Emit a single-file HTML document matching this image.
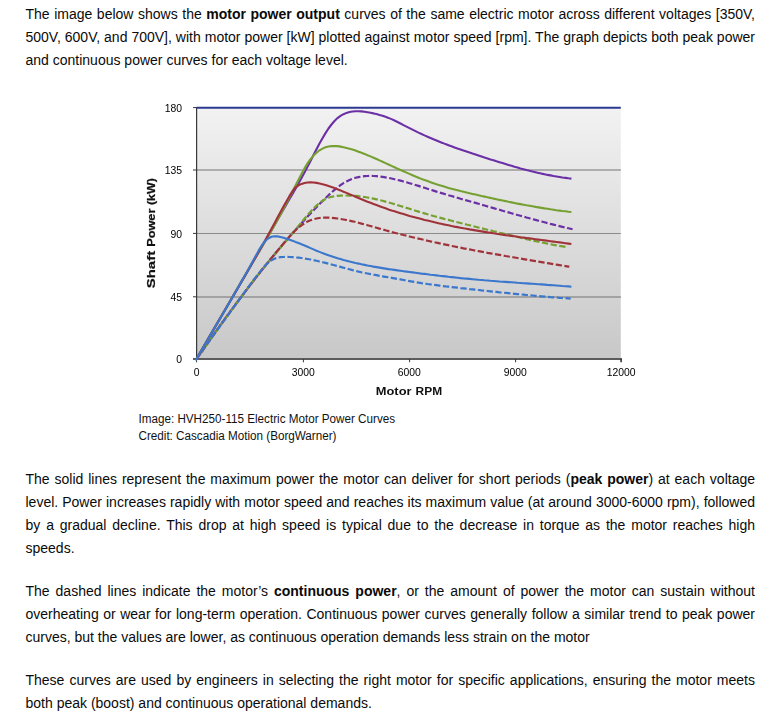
<!DOCTYPE html>
<html><head><meta charset="utf-8">
<style>
html,body{margin:0;padding:0;background:#fff;}
body{width:782px;height:722px;position:relative;overflow:hidden;font-family:"Liberation Sans",sans-serif;color:#0a0a0a;}
.p{position:absolute;left:25.5px;width:729.5px;font-size:14px;line-height:23px;}
.p div{text-align:justify;text-align-last:justify;white-space:nowrap;height:23px;}
.p div.l{text-align:left;text-align-last:left;}
svg{position:absolute;left:0;top:0;}
.cap{position:absolute;left:139px;font-size:11.62px;line-height:16.8px;white-space:nowrap;color:#111;}
</style></head><body>
<div class="p" style="top:3px">
<div>The image below shows the <b>motor power output</b> curves of the same electric motor across different voltages [350V,</div>
<div>500V, 600V, and 700V], with motor power [kW] plotted against motor speed [rpm]. The graph depicts both peak power</div>
<div class="l">and continuous power curves for each voltage level.</div>
</div>
<svg width="520" height="310" viewBox="130 95 520 310" style="left:130px;top:95px;will-change:transform">
<defs><linearGradient id="bg" x1="0" y1="0" x2="0" y2="1"><stop offset="0" stop-color="#f2f2f2"/><stop offset="1" stop-color="#c8c8c8"/></linearGradient></defs>
<rect x="196.5" y="107.5" width="424.3" height="251.5" fill="url(#bg)"/>
<line x1="196" y1="170" x2="620.8" y2="170" stroke="#aeaeae" stroke-width="2"/>
<line x1="196" y1="233.5" x2="620.8" y2="233.5" stroke="#8a8a8a" stroke-width="1.2"/>
<line x1="196" y1="296.9" x2="620.8" y2="296.9" stroke="#a2a2a2" stroke-width="2"/>
<line x1="196.6" y1="107" x2="196.6" y2="359" stroke="#3a3a3a" stroke-width="1.2"/>
<line x1="193" y1="359" x2="622" y2="359" stroke="#5c5c5c" stroke-width="2"/>
<g stroke="#383838" stroke-width="1">
<line x1="193" y1="107.6" x2="197" y2="107.6"/><line x1="193" y1="170" x2="197" y2="170"/><line x1="193" y1="233.4" x2="197" y2="233.4"/><line x1="193" y1="296.8" x2="197" y2="296.8"/>
<line x1="196.6" y1="359" x2="196.6" y2="362.3"/><line x1="303.4" y1="359" x2="303.4" y2="362.3"/><line x1="409.6" y1="359" x2="409.6" y2="362.3"/><line x1="515.6" y1="359" x2="515.6" y2="362.3"/><line x1="621.1" y1="359" x2="621.1" y2="362.3" stroke-width="1.6"/>
</g>
<path d="M196.5,359.0 L199.5,354.7 L202.5,350.4 L205.5,346.1 L208.5,341.8 L211.5,337.6 L214.5,333.4 L217.5,329.2 L220.5,325.0 L223.5,320.9 L226.5,316.7 L229.5,312.6 L232.5,308.6 L235.5,304.5 L238.5,300.5 L241.5,296.5 L244.5,292.5 L247.5,288.6 L250.5,284.7 L253.5,280.8 L256.5,276.9 L259.5,273.1 L262.5,269.3 L265.5,265.6 L268.5,261.9 L271.5,258.2 L274.5,254.5 L277.5,250.9 L280.5,247.3 L283.5,243.7 L286.5,240.2 L289.5,236.7 L292.5,233.3 L295.5,229.9 L298.5,226.5 L301.5,223.2 L304.5,219.9 L307.5,216.6 L310.5,213.4 L313.5,210.3 L316.5,207.2 L319.5,204.1 L322.5,201.1 L325.5,198.2 L328.5,195.3 L331.5,192.5 L334.5,189.9 L337.5,187.4 L340.5,185.2 L343.5,183.1 L346.5,181.4 L349.5,179.9 L352.5,178.7 L355.5,177.8 L358.5,177.1 L361.5,176.5 L364.5,176.2 L367.5,176.0 L370.5,175.9 L373.5,176.0 L376.5,176.2 L379.5,176.5 L382.5,176.9 L385.5,177.4 L388.5,177.9 L391.5,178.5 L394.5,179.2 L397.5,179.9 L400.5,180.6 L403.5,181.5 L406.5,182.3 L409.5,183.2 L412.5,184.1 L415.5,185.0 L418.5,185.9 L421.5,186.9 L424.5,187.8 L427.5,188.8 L430.5,189.7 L433.5,190.6 L436.5,191.6 L439.5,192.5 L442.5,193.4 L445.5,194.3 L448.5,195.2 L451.5,196.0 L454.5,196.9 L457.5,197.8 L460.5,198.7 L463.5,199.5 L466.5,200.4 L469.5,201.2 L472.5,202.1 L475.5,202.9 L478.5,203.8 L481.5,204.7 L484.5,205.5 L487.5,206.4 L490.5,207.2 L493.5,208.1 L496.5,209.0 L499.5,209.8 L502.5,210.7 L505.5,211.6 L508.5,212.4 L511.5,213.3 L514.5,214.1 L517.5,215.0 L520.5,215.8 L523.5,216.6 L526.5,217.5 L529.5,218.3 L532.5,219.1 L535.5,219.9 L538.5,220.7 L541.5,221.5 L544.5,222.3 L547.5,223.1 L550.5,223.9 L553.5,224.6 L556.5,225.4 L559.5,226.1 L562.5,226.9 L565.5,227.6 L568.5,228.3 L571.5,229.0 L572.5,229.2" fill="none" stroke="#6b2fa6" stroke-width="2.2" stroke-dasharray="6.3 2.5" stroke-dashoffset="4.5" stroke-linejoin="round"/>
<path d="M196.5,359.0 L199.5,354.8 L202.5,350.6 L205.5,346.4 L208.5,342.2 L211.5,338.0 L214.5,333.8 L217.5,329.5 L220.5,325.3 L223.5,321.1 L226.5,316.9 L229.5,312.8 L232.5,308.6 L235.5,304.5 L238.5,300.4 L241.5,296.3 L244.5,292.3 L247.5,288.3 L250.5,284.4 L253.5,280.5 L256.5,276.7 L259.5,272.9 L262.5,269.2 L265.5,265.5 L268.5,261.9 L271.5,258.3 L274.5,254.7 L277.5,251.1 L280.5,247.6 L283.5,244.0 L286.5,240.5 L289.5,236.9 L292.5,233.3 L295.5,229.7 L298.5,226.1 L301.5,222.4 L304.5,218.7 L307.5,215.2 L310.5,211.7 L313.5,208.5 L316.5,205.6 L319.5,203.0 L322.5,200.8 L325.5,199.0 L328.5,197.7 L331.5,196.8 L334.5,196.2 L337.5,195.8 L340.5,195.6 L343.5,195.5 L346.5,195.5 L349.5,195.6 L352.5,195.7 L355.5,195.9 L358.5,196.2 L361.5,196.6 L364.5,197.0 L367.5,197.5 L370.5,198.1 L373.5,198.7 L376.5,199.3 L379.5,200.0 L382.5,200.8 L385.5,201.6 L388.5,202.4 L391.5,203.3 L394.5,204.1 L397.5,205.1 L400.5,206.0 L403.5,206.9 L406.5,207.9 L409.5,208.8 L412.5,209.8 L415.5,210.7 L418.5,211.6 L421.5,212.5 L424.5,213.4 L427.5,214.3 L430.5,215.1 L433.5,216.0 L436.5,216.8 L439.5,217.6 L442.5,218.4 L445.5,219.2 L448.5,219.9 L451.5,220.7 L454.5,221.5 L457.5,222.2 L460.5,223.0 L463.5,223.7 L466.5,224.5 L469.5,225.2 L472.5,226.0 L475.5,226.7 L478.5,227.5 L481.5,228.2 L484.5,229.0 L487.5,229.7 L490.5,230.4 L493.5,231.2 L496.5,231.9 L499.5,232.7 L502.5,233.4 L505.5,234.2 L508.5,234.9 L511.5,235.6 L514.5,236.3 L517.5,237.0 L520.5,237.7 L523.5,238.4 L526.5,239.1 L529.5,239.8 L532.5,240.4 L535.5,241.1 L538.5,241.7 L541.5,242.4 L544.5,243.0 L547.5,243.6 L550.5,244.2 L553.5,244.8 L556.5,245.3 L559.5,245.9 L562.5,246.4 L565.5,246.9 L568.0,247.3" fill="none" stroke="#76a032" stroke-width="2.2" stroke-dasharray="6.3 2.5" stroke-dashoffset="2.2" stroke-linejoin="round"/>
<path d="M196.5,359.0 L199.5,354.7 L202.5,350.5 L205.5,346.2 L208.5,342.0 L211.5,337.7 L214.5,333.5 L217.5,329.4 L220.5,325.2 L223.5,321.0 L226.5,316.9 L229.5,312.8 L232.5,308.7 L235.5,304.6 L238.5,300.6 L241.5,296.6 L244.5,292.6 L247.5,288.6 L250.5,284.6 L253.5,280.7 L256.5,276.8 L259.5,273.0 L262.5,269.1 L265.5,265.4 L268.5,261.6 L271.5,257.9 L274.5,254.2 L277.5,250.6 L280.5,247.0 L283.5,243.5 L286.5,240.0 L289.5,236.6 L292.5,233.4 L295.5,230.3 L298.5,227.6 L301.5,225.3 L304.5,223.3 L307.5,221.6 L310.5,220.3 L313.5,219.3 L316.5,218.5 L319.5,218.0 L322.5,217.7 L325.5,217.6 L328.5,217.7 L331.5,217.9 L334.5,218.2 L337.5,218.5 L340.5,219.0 L343.5,219.5 L346.5,220.0 L349.5,220.7 L352.5,221.3 L355.5,222.0 L358.5,222.8 L361.5,223.6 L364.5,224.4 L367.5,225.2 L370.5,226.0 L373.5,226.9 L376.5,227.7 L379.5,228.6 L382.5,229.4 L385.5,230.3 L388.5,231.1 L391.5,231.9 L394.5,232.7 L397.5,233.5 L400.5,234.2 L403.5,235.0 L406.5,235.7 L409.5,236.5 L412.5,237.2 L415.5,237.9 L418.5,238.6 L421.5,239.3 L424.5,240.0 L427.5,240.7 L430.5,241.4 L433.5,242.0 L436.5,242.7 L439.5,243.3 L442.5,244.0 L445.5,244.6 L448.5,245.2 L451.5,245.9 L454.5,246.5 L457.5,247.1 L460.5,247.7 L463.5,248.3 L466.5,248.8 L469.5,249.4 L472.5,250.0 L475.5,250.6 L478.5,251.1 L481.5,251.7 L484.5,252.2 L487.5,252.8 L490.5,253.3 L493.5,253.9 L496.5,254.4 L499.5,254.9 L502.5,255.4 L505.5,256.0 L508.5,256.5 L511.5,257.0 L514.5,257.5 L517.5,258.0 L520.5,258.6 L523.5,259.1 L526.5,259.6 L529.5,260.1 L532.5,260.6 L535.5,261.1 L538.5,261.6 L541.5,262.1 L544.5,262.6 L547.5,263.1 L550.5,263.6 L553.5,264.1 L556.5,264.6 L559.5,265.1 L562.5,265.6 L565.5,266.1 L568.5,266.6 L569.3,266.8" fill="none" stroke="#a0323a" stroke-width="2.2" stroke-dasharray="6.3 2.5" stroke-dashoffset="0" stroke-linejoin="round"/>
<path d="M196.5,359.0 L199.5,354.7 L202.5,350.5 L205.5,346.2 L208.5,342.0 L211.5,337.8 L214.5,333.7 L217.5,329.5 L220.5,325.3 L223.5,321.2 L226.5,317.1 L229.5,312.9 L232.5,308.8 L235.5,304.7 L238.5,300.6 L241.5,296.5 L244.5,292.4 L247.5,288.3 L250.5,284.2 L253.5,280.2 L256.5,276.2 L259.5,272.4 L262.5,268.6 L265.5,265.3 L268.5,262.4 L271.5,260.2 L274.5,258.7 L277.5,257.7 L280.5,257.2 L283.5,257.0 L286.5,256.9 L289.5,257.0 L292.5,257.1 L295.5,257.4 L298.5,257.7 L301.5,258.0 L304.5,258.5 L307.5,259.0 L310.5,259.5 L313.5,260.1 L316.5,260.8 L319.5,261.5 L322.5,262.2 L325.5,262.9 L328.5,263.7 L331.5,264.5 L334.5,265.3 L337.5,266.1 L340.5,266.9 L343.5,267.7 L346.5,268.5 L349.5,269.3 L352.5,270.1 L355.5,270.8 L358.5,271.6 L361.5,272.3 L364.5,272.9 L367.5,273.5 L370.5,274.1 L373.5,274.7 L376.5,275.2 L379.5,275.8 L382.5,276.3 L385.5,276.8 L388.5,277.3 L391.5,277.8 L394.5,278.3 L397.5,278.9 L400.5,279.4 L403.5,280.0 L406.5,280.6 L409.5,281.1 L412.5,281.6 L415.5,282.1 L418.5,282.6 L421.5,283.1 L424.5,283.5 L427.5,284.0 L430.5,284.4 L433.5,284.8 L436.5,285.2 L439.5,285.6 L442.5,286.0 L445.5,286.4 L448.5,286.7 L451.5,287.1 L454.5,287.4 L457.5,287.7 L460.5,288.1 L463.5,288.4 L466.5,288.7 L469.5,289.1 L472.5,289.4 L475.5,289.7 L478.5,290.0 L481.5,290.4 L484.5,290.7 L487.5,291.0 L490.5,291.3 L493.5,291.6 L496.5,291.9 L499.5,292.3 L502.5,292.6 L505.5,292.9 L508.5,293.2 L511.5,293.5 L514.5,293.8 L517.5,294.1 L520.5,294.4 L523.5,294.7 L526.5,295.0 L529.5,295.2 L532.5,295.5 L535.5,295.8 L538.5,296.0 L541.5,296.3 L544.5,296.6 L547.5,296.8 L550.5,297.1 L553.5,297.3 L556.5,297.5 L559.5,297.8 L562.5,298.0 L565.5,298.2 L568.5,298.4 L570.7,298.6" fill="none" stroke="#3b77cc" stroke-width="2.2" stroke-dasharray="6.3 2.5" stroke-dashoffset="0" stroke-linejoin="round"/>
<path d="M196.5,359.0 L199.5,353.8 L202.5,348.6 L205.5,343.5 L208.5,338.3 L211.5,333.1 L214.5,328.0 L217.5,322.8 L220.5,317.7 L223.5,312.5 L226.5,307.3 L229.5,302.2 L232.5,297.0 L235.5,291.9 L238.5,286.7 L241.5,281.6 L244.5,276.4 L247.5,271.3 L250.5,266.2 L253.5,261.0 L256.5,255.9 L259.5,250.7 L262.5,245.6 L265.5,240.4 L268.5,235.2 L271.5,230.1 L274.5,224.9 L277.5,219.8 L280.5,214.6 L283.5,209.4 L286.5,204.3 L289.5,199.1 L292.5,193.9 L295.5,188.7 L298.5,183.4 L301.5,178.0 L304.5,172.5 L307.5,166.8 L310.5,161.0 L313.5,155.1 L316.5,149.2 L319.5,143.5 L322.5,138.2 L325.5,133.1 L328.5,128.5 L331.5,124.5 L334.5,121.0 L337.5,118.1 L340.5,115.9 L343.5,114.2 L346.5,112.9 L349.5,112.0 L352.5,111.5 L355.5,111.2 L358.5,111.2 L361.5,111.4 L364.5,111.8 L367.5,112.3 L370.5,112.8 L373.5,113.4 L376.5,114.1 L379.5,114.9 L382.5,115.8 L385.5,116.8 L388.5,117.9 L391.5,119.1 L394.5,120.5 L397.5,122.0 L400.5,123.5 L403.5,125.1 L406.5,126.6 L409.5,128.1 L412.5,129.6 L415.5,131.1 L418.5,132.6 L421.5,134.0 L424.5,135.4 L427.5,136.7 L430.5,138.0 L433.5,139.3 L436.5,140.5 L439.5,141.8 L442.5,142.9 L445.5,144.1 L448.5,145.2 L451.5,146.3 L454.5,147.4 L457.5,148.5 L460.5,149.5 L463.5,150.6 L466.5,151.6 L469.5,152.6 L472.5,153.6 L475.5,154.5 L478.5,155.5 L481.5,156.5 L484.5,157.5 L487.5,158.4 L490.5,159.4 L493.5,160.3 L496.5,161.3 L499.5,162.2 L502.5,163.1 L505.5,164.0 L508.5,164.9 L511.5,165.8 L514.5,166.7 L517.5,167.5 L520.5,168.4 L523.5,169.2 L526.5,170.0 L529.5,170.7 L532.5,171.5 L535.5,172.2 L538.5,172.9 L541.5,173.6 L544.5,174.2 L547.5,174.9 L550.5,175.4 L553.5,176.0 L556.5,176.5 L559.5,177.0 L562.5,177.5 L565.5,177.9 L568.5,178.3 L571.4,178.6" fill="none" stroke="#6b2fa6" stroke-width="2.1" stroke-linejoin="round"/>
<path d="M196.5,359.0 L199.5,353.9 L202.5,348.8 L205.5,343.7 L208.5,338.6 L211.5,333.4 L214.5,328.2 L217.5,323.0 L220.5,317.8 L223.5,312.6 L226.5,307.4 L229.5,302.1 L232.5,296.9 L235.5,291.7 L238.5,286.5 L241.5,281.3 L244.5,276.2 L247.5,271.0 L250.5,265.9 L253.5,260.8 L256.5,255.8 L259.5,250.8 L262.5,245.7 L265.5,240.7 L268.5,235.6 L271.5,230.5 L274.5,225.2 L277.5,219.9 L280.5,214.4 L283.5,208.8 L286.5,203.1 L289.5,197.3 L292.5,191.4 L295.5,185.6 L298.5,179.7 L301.5,174.0 L304.5,168.4 L307.5,163.4 L310.5,159.1 L313.5,155.6 L316.5,152.7 L319.5,150.3 L322.5,148.6 L325.5,147.3 L328.5,146.5 L331.5,146.1 L334.5,146.0 L337.5,146.1 L340.5,146.6 L343.5,147.2 L346.5,147.9 L349.5,148.7 L352.5,149.6 L355.5,150.6 L358.5,151.7 L361.5,152.8 L364.5,153.9 L367.5,155.2 L370.5,156.4 L373.5,157.7 L376.5,159.0 L379.5,160.4 L382.5,161.7 L385.5,163.1 L388.5,164.5 L391.5,165.9 L394.5,167.2 L397.5,168.6 L400.5,170.0 L403.5,171.3 L406.5,172.6 L409.5,173.9 L412.5,175.2 L415.5,176.5 L418.5,177.7 L421.5,178.9 L424.5,180.0 L427.5,181.1 L430.5,182.2 L433.5,183.3 L436.5,184.3 L439.5,185.2 L442.5,186.1 L445.5,187.0 L448.5,187.9 L451.5,188.7 L454.5,189.5 L457.5,190.3 L460.5,191.1 L463.5,191.8 L466.5,192.5 L469.5,193.2 L472.5,193.9 L475.5,194.6 L478.5,195.3 L481.5,196.0 L484.5,196.6 L487.5,197.3 L490.5,197.9 L493.5,198.6 L496.5,199.2 L499.5,199.9 L502.5,200.5 L505.5,201.1 L508.5,201.8 L511.5,202.4 L514.5,203.0 L517.5,203.6 L520.5,204.1 L523.5,204.7 L526.5,205.3 L529.5,205.8 L532.5,206.3 L535.5,206.9 L538.5,207.4 L541.5,207.9 L544.5,208.4 L547.5,208.8 L550.5,209.3 L553.5,209.7 L556.5,210.2 L559.5,210.6 L562.5,211.0 L565.5,211.3 L568.5,211.7 L571.4,212.0" fill="none" stroke="#76a032" stroke-width="2.1" stroke-linejoin="round"/>
<path d="M196.5,359.0 L199.5,353.7 L202.5,348.5 L205.5,343.3 L208.5,338.1 L211.5,333.0 L214.5,327.8 L217.5,322.7 L220.5,317.6 L223.5,312.5 L226.5,307.4 L229.5,302.3 L232.5,297.2 L235.5,292.1 L238.5,287.0 L241.5,281.8 L244.5,276.7 L247.5,271.5 L250.5,266.3 L253.5,261.0 L256.5,255.7 L259.5,250.4 L262.5,245.1 L265.5,239.7 L268.5,234.2 L271.5,228.7 L274.5,223.2 L277.5,217.6 L280.5,212.1 L283.5,206.6 L286.5,201.2 L289.5,195.9 L292.5,191.2 L295.5,187.5 L298.5,185.3 L301.5,183.9 L304.5,183.0 L307.5,182.5 L310.5,182.4 L313.5,182.5 L316.5,182.9 L319.5,183.5 L322.5,184.2 L325.5,185.1 L328.5,186.0 L331.5,187.0 L334.5,188.1 L337.5,189.3 L340.5,190.4 L343.5,191.7 L346.5,192.9 L349.5,194.2 L352.5,195.4 L355.5,196.7 L358.5,198.0 L361.5,199.2 L364.5,200.5 L367.5,201.7 L370.5,202.8 L373.5,204.0 L376.5,205.1 L379.5,206.2 L382.5,207.3 L385.5,208.3 L388.5,209.4 L391.5,210.4 L394.5,211.3 L397.5,212.3 L400.5,213.2 L403.5,214.1 L406.5,215.0 L409.5,215.9 L412.5,216.7 L415.5,217.5 L418.5,218.3 L421.5,219.1 L424.5,219.9 L427.5,220.6 L430.5,221.3 L433.5,222.0 L436.5,222.7 L439.5,223.4 L442.5,224.1 L445.5,224.7 L448.5,225.3 L451.5,226.0 L454.5,226.6 L457.5,227.1 L460.5,227.7 L463.5,228.3 L466.5,228.8 L469.5,229.4 L472.5,229.9 L475.5,230.4 L478.5,230.9 L481.5,231.4 L484.5,231.9 L487.5,232.4 L490.5,232.8 L493.5,233.3 L496.5,233.7 L499.5,234.2 L502.5,234.6 L505.5,235.1 L508.5,235.5 L511.5,235.9 L514.5,236.3 L517.5,236.7 L520.5,237.2 L523.5,237.6 L526.5,238.0 L529.5,238.4 L532.5,238.8 L535.5,239.2 L538.5,239.6 L541.5,240.0 L544.5,240.4 L547.5,240.8 L550.5,241.2 L553.5,241.6 L556.5,242.0 L559.5,242.4 L562.5,242.8 L565.5,243.2 L568.5,243.6 L571.4,244.0" fill="none" stroke="#a0323a" stroke-width="2.1" stroke-linejoin="round"/>
<path d="M195.7,360.4 L196.5,359.0 L199.5,353.7 L202.5,348.5 L205.5,343.4 L208.5,338.2 L211.5,333.1 L214.5,328.0 L217.5,322.9 L220.5,317.8 L223.5,312.7 L226.5,307.6 L229.5,302.5 L232.5,297.3 L235.5,292.1 L238.5,286.9 L241.5,281.6 L244.5,276.3 L247.5,270.9 L250.5,265.5 L253.5,260.0 L256.5,254.4 L259.5,249.1 L262.5,244.4 L265.5,240.7 L268.5,238.2 L271.5,236.8 L274.5,236.3 L277.5,236.4 L280.5,237.0 L283.5,237.8 L286.5,238.7 L289.5,239.7 L292.5,240.7 L295.5,241.9 L298.5,243.0 L301.5,244.3 L304.5,245.5 L307.5,246.8 L310.5,248.1 L313.5,249.4 L316.5,250.7 L319.5,251.9 L322.5,253.1 L325.5,254.2 L328.5,255.3 L331.5,256.3 L334.5,257.3 L337.5,258.3 L340.5,259.1 L343.5,260.0 L346.5,260.8 L349.5,261.6 L352.5,262.3 L355.5,263.0 L358.5,263.6 L361.5,264.3 L364.5,264.9 L367.5,265.5 L370.5,266.0 L373.5,266.6 L376.5,267.1 L379.5,267.6 L382.5,268.1 L385.5,268.6 L388.5,269.1 L391.5,269.5 L394.5,269.9 L397.5,270.4 L400.5,270.8 L403.5,271.2 L406.5,271.6 L409.5,272.0 L412.5,272.4 L415.5,272.8 L418.5,273.2 L421.5,273.6 L424.5,273.9 L427.5,274.3 L430.5,274.7 L433.5,275.0 L436.5,275.4 L439.5,275.8 L442.5,276.1 L445.5,276.4 L448.5,276.8 L451.5,277.1 L454.5,277.4 L457.5,277.7 L460.5,278.1 L463.5,278.4 L466.5,278.6 L469.5,278.9 L472.5,279.2 L475.5,279.5 L478.5,279.8 L481.5,280.0 L484.5,280.3 L487.5,280.5 L490.5,280.8 L493.5,281.0 L496.5,281.2 L499.5,281.5 L502.5,281.7 L505.5,281.9 L508.5,282.1 L511.5,282.3 L514.5,282.5 L517.5,282.8 L520.5,283.0 L523.5,283.2 L526.5,283.4 L529.5,283.6 L532.5,283.8 L535.5,284.0 L538.5,284.2 L541.5,284.4 L544.5,284.6 L547.5,284.9 L550.5,285.1 L553.5,285.3 L556.5,285.5 L559.5,285.7 L562.5,286.0 L565.5,286.2 L568.5,286.4 L571.4,286.7" fill="none" stroke="#3b77cc" stroke-width="2.1" stroke-linejoin="round"/>

<line x1="196.6" y1="107.8" x2="620.8" y2="107.8" stroke="#2b3990" stroke-width="2.1"/>
<g><g font-family="Liberation Sans, sans-serif" font-size="10.9" fill="#000" text-anchor="end">
<text transform="translate(182,111.8) scale(0.955,1)">180</text><text transform="translate(182,174.3) scale(0.955,1)">135</text><text transform="translate(182,237.5) scale(0.955,1)">90</text><text transform="translate(182,300.9) scale(0.955,1)">45</text><text transform="translate(182,362.9) scale(0.955,1)">0</text>
</g>
<g font-family="Liberation Sans, sans-serif" font-size="10.9" fill="#000" text-anchor="middle">
<text transform="translate(196.6,376.1) scale(0.955,1)">0</text><text transform="translate(303.3,376.1) scale(0.955,1)">3000</text><text transform="translate(409.3,376.1) scale(0.955,1)">6000</text><text transform="translate(515.3,376.1) scale(0.955,1)">9000</text><text transform="translate(621.2,376.1) scale(0.955,1)">12000</text>
</g>
<g font-family="Liberation Sans, sans-serif" font-size="11" font-weight="bold" fill="#111">
<text x="375.8" y="395.3" textLength="35.7" lengthAdjust="spacingAndGlyphs">Motor</text>
<text x="415.6" y="395.3" textLength="26.5" lengthAdjust="spacingAndGlyphs">RPM</text>
<text transform="translate(155,288.2) rotate(-90)" textLength="37.3" lengthAdjust="spacingAndGlyphs" stroke="#111" stroke-width="0.22">Shaft</text>
<text transform="translate(155,246.8) rotate(-90)" textLength="38.2" lengthAdjust="spacingAndGlyphs" stroke="#111" stroke-width="0.22">Power</text>
<text transform="translate(155,205.0) rotate(-90)" textLength="26.8" lengthAdjust="spacingAndGlyphs" stroke="#111" stroke-width="0.22">(kW)</text>
</g></g>
</svg>
<svg width="400" height="44" viewBox="130 406 400 44" style="left:130px;top:406px">
<g font-family="Liberation Sans, sans-serif" font-size="12" fill="#111">
<text transform="translate(138.5,423) scale(0.9735,1)">Image: HVH250-115 Electric Motor Power Curves</text>
<text transform="translate(138.5,440) scale(0.9735,1)">Credit: Cascadia Motion (BorgWarner)</text>
</g>
</svg>
<div class="p" style="top:468px">
<div>The solid lines represent the maximum power the motor can deliver for short periods (<b>peak power</b>) at each voltage</div>
<div>level. Power increases rapidly with motor speed and reaches its maximum value (at around 3000-6000 rpm), followed</div>
<div>by a gradual decline. This drop at high speed is typical due to the decrease in torque as the motor reaches high</div>
<div class="l">speeds.</div>
</div>
<div class="p" style="top:580px">
<div>The dashed lines indicate the motor’s <b>continuous power</b>, or the amount of power the motor can sustain without</div>
<div>overheating or wear for long-term operation. Continuous power curves generally follow a similar trend to peak power</div>
<div class="l">curves, but the values are lower, as continuous operation demands less strain on the motor</div>
</div>
<div class="p" style="top:669px">
<div>These curves are used by engineers in selecting the right motor for specific applications, ensuring the motor meets</div>
<div class="l">both peak (boost) and continuous operational demands.</div>
</div>
</body></html>
